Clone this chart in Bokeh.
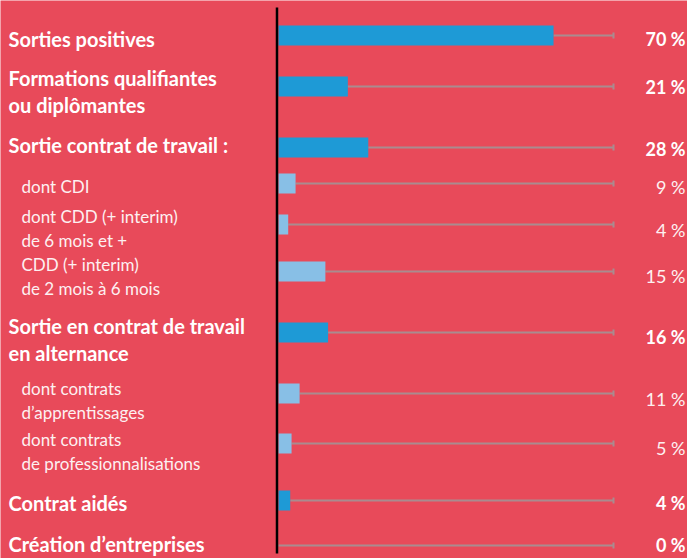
from bokeh.plotting import figure
from bokeh.models import Range1d, ColumnDataSource
from bokeh.embed import file_html
from bokeh.resources import INLINE
from bokeh.core.properties import value
from bokeh.transform import dodge

# ---- data ----
categories = [
    "Sorties positives",
    "Formations qualifiantes\nou diplômantes",
    "Sortie contrat de travail :",
    "dont CDI",
    "dont CDD (+ interim)\nde 6 mois et +",
    "CDD (+ interim)\nde 2 mois à 6 mois",
    "Sortie en contrat de travail\nen alternance",
    "dont contrats\nd’apprentissages",
    "dont contrats\nde professionnalisations",
    "Contrat aidés",
    "Création d’entreprises",
]
is_main = [True, True, True, False, False, False, True, False, False, True, True]
pct_labels = ["70 %", "21 %", "28 %", "9 %", "4 %", "15 %", "16 %", "11 %", "5 %", "4 %", "0 %"]
bar_values = [82.1, 20.7, 26.8, 5.1, 2.9, 14.0, 14.8, 6.3, 3.9, 3.5, 0.0]
track_max = 100

# ---- layout (row slots, in page pixels from top) ----
row_y = [35, 86, 147, 183, 224, 271, 332, 393, 443, 500, 545]
label_y = [38, 91, 144, 186, 228, 276, 339, 400, 451, 502, 543]
value_y = [38, 86, 148, 186, 229, 275, 336, 398, 447, 502, 544]

W, H = 687, 558
X0, PX = 278.0, 3.35  # page pixel of 0, pixels per unit
BG = "#e84a5a"
DARK = "#1e9ad6"
LIGHT = "#88bfe6"
TRACK = "#a98b8f"

x_start = (0 - X0) / PX
x_end = (W - X0) / PX

p = figure(width=W, height=H, output_backend="svg", toolbar_location=None,
           x_range=Range1d(x_start, x_end), y_range=Range1d(H, 0),
           min_border=0, min_border_left=0, min_border_right=0,
           min_border_top=0, min_border_bottom=0)
p.background_fill_color = BG
p.border_fill_color = BG
p.outline_line_color = None
p.axis.visible = False
p.grid.visible = False

colors = [DARK if m else LIGHT for m in is_main]
src = ColumnDataSource(dict(y=row_y, v=bar_values, c=colors,
                            tmax=[track_max] * len(row_y)))

# tracks
p.segment(x0="v", y0="y", x1="tmax", y1="y", source=src,
          line_color=TRACK, line_width=2)
p.segment(x0="tmax", y0=dodge("y", -3), x1="tmax", y1=dodge("y", 3),
          source=src, line_color=TRACK, line_width=2)
# bars
p.hbar(y="y", left=0, right="v", height=20, source=src,
       fill_color="c", line_color=None)
# axis line
p.segment(x0=[-0.45], y0=[7], x1=[-0.45], y1=[553], line_color="black", line_width=2.5)

main_idx = [i for i, m in enumerate(is_main) if m]
sub_idx = [i for i, m in enumerate(is_main) if not m]

main_src = ColumnDataSource(dict(
    y=[label_y[i] for i in main_idx], t=[categories[i] for i in main_idx],
    vy=[value_y[i] for i in main_idx], vt=[pct_labels[i] for i in main_idx]))
sub_src = ColumnDataSource(dict(
    y=[label_y[i] for i in sub_idx], t=[categories[i] for i in sub_idx],
    vy=[value_y[i] for i in sub_idx], vt=[pct_labels[i] for i in sub_idx]))

p.text(x=x_start, y="y", text="t", source=main_src, x_offset=8,
       text_font=value("Lato"), text_font_style="bold", text_font_size="20px",
       text_color="white", text_baseline="middle", text_align="left",
       text_line_height=1.09)
p.text(x=x_start, y="y", text="t", source=sub_src, x_offset=21,
       text_font=value("Lato"), text_font_style="normal", text_font_size="17px",
       text_color="#fdf0f1", text_baseline="middle", text_align="left",
       text_line_height=1.15)
p.text(x=x_end, y="vy", text="vt", source=main_src, x_offset=-2,
       text_font=value("Lato"), text_font_style="bold", text_font_size="18px",
       text_color="white", text_baseline="middle", text_align="right")
p.text(x=x_end, y="vy", text="vt", source=sub_src, x_offset=-2,
       text_font=value("Lato"), text_font_style="normal", text_font_size="18px",
       text_color="#fdf0f1", text_baseline="middle", text_align="right")

html = file_html(p, INLINE)
html = html.replace("<body>", '<body style="margin:0;background:%s">' % BG, 1)
open("out.html", "w").write(html)
